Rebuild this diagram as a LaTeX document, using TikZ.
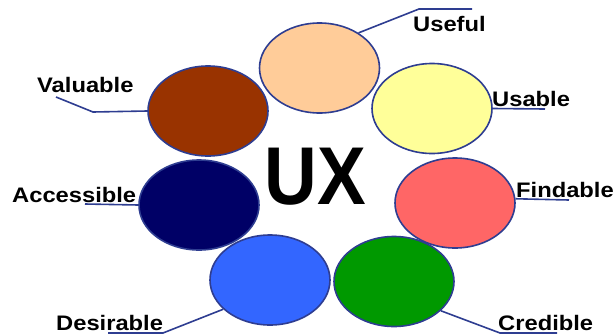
\documentclass[tikz,border=0pt]{standalone}
\usepackage{fontspec}
\usepackage{tikz}
\usetikzlibrary{positioning, calc, shapes}
\setmainfont{Liberation Sans}
\newfontfamily\fonterotulo[FakeStretch=1.13]{Liberation Sans}
\newfontfamily\fontetitulo[FakeStretch=0.89]{Liberation Sans}
\definecolor{borda}{RGB}{46,61,145}
\definecolor{pessego}{HTML}{FFCC99}
\definecolor{amarelo}{HTML}{FFFF99}
\definecolor{marrom}{HTML}{993300}
\definecolor{marinho}{HTML}{000066}
\definecolor{salmao}{HTML}{FF6666}
\definecolor{azul}{HTML}{3366FF}
\definecolor{verde}{HTML}{009900}

\begin{document}
\begin{tikzpicture}[x=1pt, y=-1pt, petala/.style={ellipse, draw=borda, line width=1.6pt, minimum width=120pt, minimum height=90pt, inner sep=0pt}, rotulo/.style={anchor=base west, inner sep=0pt, font=\fonterotulo\bfseries\fontsize{21}{21}\selectfont}, ligacao/.style={draw=borda, line width=1.6pt} ]
		\useasboundingbox (0,0) rectangle (614,335);
		
		%Elipses:
		\node[petala, fill=pessego]		(useful)		at (319.5,68)	{};
		\node[petala, fill=amarelo]		(usable)		at (432,108.5)	{};
		\node[petala, fill=marrom]		(valuable)		at (208,111)	{};
		\node[petala, fill=marinho]		(accessible)	at (199,205)	{};
		\node[petala, fill=salmao]		(findable)		at (455,203)	{};
		\node[petala, fill=azul]		(desirable)		at (270,280)	{};
		\node[petala, fill=verde]		(credible)		at (394,281.5)	{};
		
		\node[anchor=base, inner sep=0pt, font=\fontetitulo\bfseries\fontsize{82}{82}\selectfont] (ux) at (315,204) {UX};
		
		%Rotulos:
		\node[rotulo]	(useful-txt)		at (413,31)		{Useful};
		\node[rotulo]	(usable-txt)		at (492,106)	{Usable};
		\node[rotulo]	(valuable-txt)		at (37,92)		{Valuable};
		\node[rotulo]	(accessible-txt)	at (12,202)		{Accessible};
		\node[rotulo]	(findable-txt)		at (516,197)	{Findable};
		\node[rotulo]	(credible-txt)		at (498,330)	{Credible};
		\node[rotulo]	(desirable-txt)		at (56,330)		{Desirable};
		
		\coordinate (useful-dobra)		at (419,9);
		\coordinate (useful-fim)		at (472,9);
		\coordinate (usable-fim)		at (545,109);
		\coordinate (valuable-dobra)	at (93,112);
		\coordinate (valuable-fim)		at (56,97);
		\coordinate (accessible-fim)	at (85,204);
		\coordinate (findable-fim)		at (569,200);
		\coordinate (credible-dobra)	at (500,333);
		\coordinate (credible-fim)		at (557,333);
		\coordinate (desirable-dobra)	at (163,333);
		\coordinate (desirable-fim)		at (108,333);
		
		%Ligacoes:
		\draw[ligacao] (useful.42)		-- (useful-dobra) -- (useful-fim);
		\draw[ligacao] (usable.east)	-- (usable-fim);
		\draw[ligacao] (valuable.west)	-- (valuable-dobra) -- (valuable-fim);
		\draw[ligacao] (accessible.west) -- (accessible-fim);
		\draw[ligacao] (findable.4)		-- (findable-fim);
		\draw[ligacao] (credible.-32)	-- (credible-dobra) -- (credible-fim);
		\draw[ligacao] (desirable.-148)	-- (desirable-dobra) -- (desirable-fim);
	\end{tikzpicture}
\end{document}
